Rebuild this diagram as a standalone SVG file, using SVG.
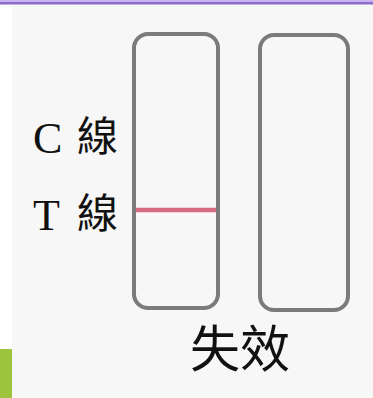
<svg xmlns="http://www.w3.org/2000/svg" width="373" height="398" viewBox="0 0 373 398">
  <style>
    .latin { font-family: "Liberation Serif", "Times New Roman", serif; fill: #111; }
    .cjk { font-family: "Noto Sans CJK TC", "Noto Sans CJK SC", sans-serif; fill: #111; }
    .strip { fill: none; stroke: #7b7b7b; stroke-width: 4; }
  </style>
  <rect x="0" y="0" width="373" height="398" fill="#ffffff"/>
  <rect x="12" y="0" width="361" height="398" fill="#f7f7f7"/>
  <rect x="0" y="0" width="373" height="2" fill="#c8b4f0"/>
  <rect x="0" y="2" width="373" height="2.5" fill="#8c6cc8"/>
  <rect x="0" y="349" width="12" height="49" fill="#9cc43c"/>
  <g id="labels">
    <text class="latin" x="33" y="153" font-size="44">C</text>
    <text class="cjk" x="77" y="151" font-size="41">線</text>
    <text class="latin" x="33" y="230" font-size="44">T</text>
    <text class="cjk" x="77" y="228" font-size="41">線</text>
  </g>
  <g id="strip-left">
    <rect class="strip" x="134" y="34" width="84" height="274" rx="14"/>
    <line x1="136" y1="210" x2="216" y2="210" stroke="#d56a80" stroke-width="4.5"/>
  </g>
  <g id="strip-right">
    <rect class="strip" x="260" y="35" width="88" height="275" rx="14"/>
  </g>
  <g id="caption">
    <text class="cjk" x="190" y="367" font-size="50">失效</text>
  </g>
</svg>
